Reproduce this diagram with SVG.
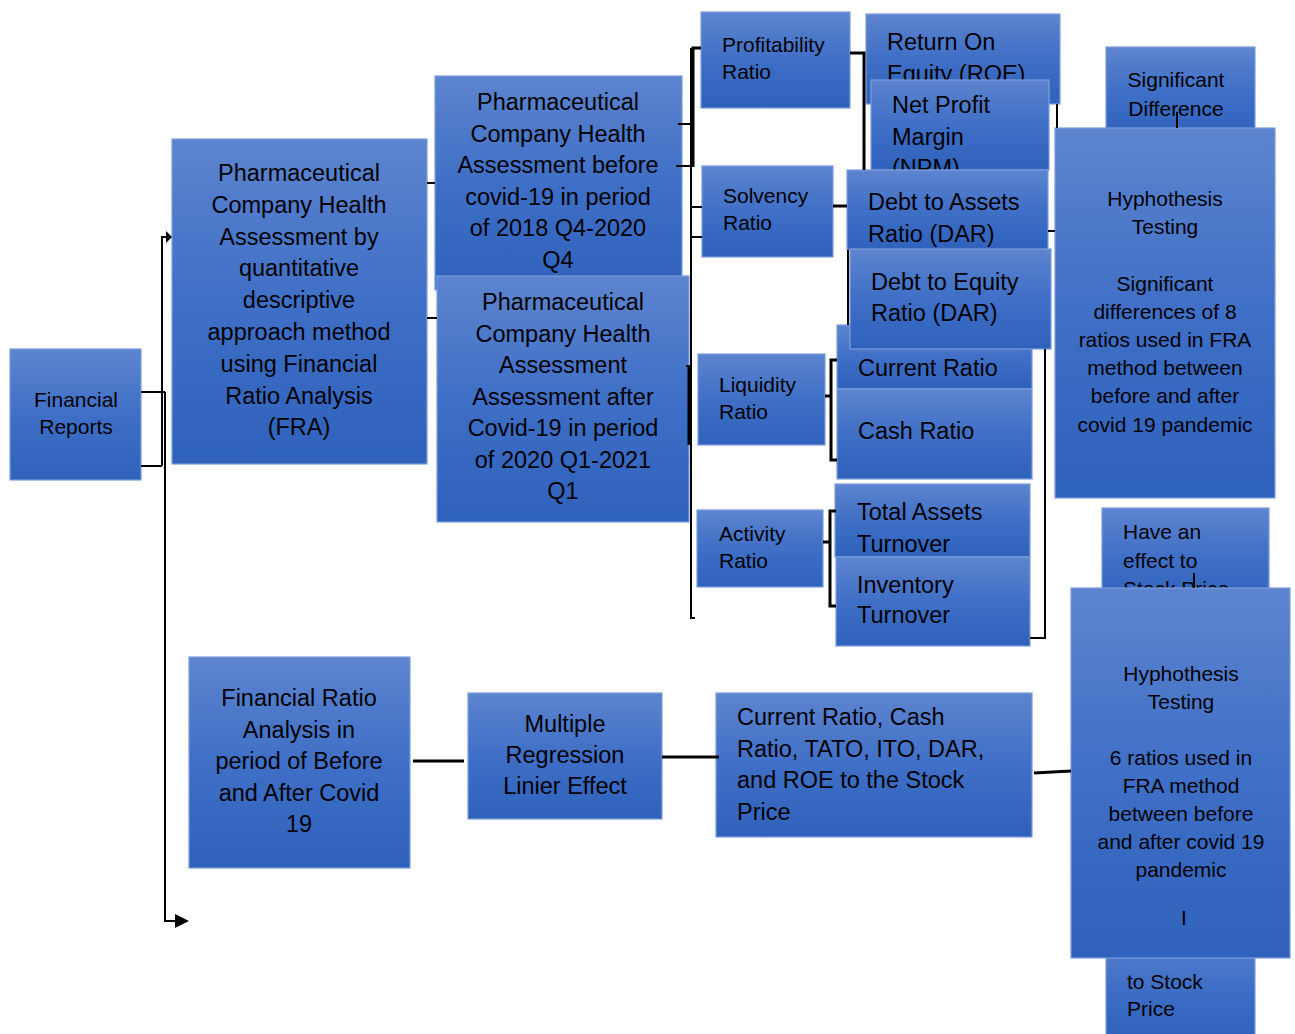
<svg xmlns="http://www.w3.org/2000/svg" width="1295" height="1034" viewBox="0 0 1295 1034">
<defs>
<linearGradient id="g" x1="0" y1="0" x2="0" y2="1">
<stop offset="0" stop-color="#5d84cf"/>
<stop offset="0.5" stop-color="#3f6fc6"/>
<stop offset="1" stop-color="#2f62bc"/>
</linearGradient>
<style>
.box{fill:url(#g);stroke:#7d9ddc;stroke-width:1.2}
.t{font-family:"Liberation Sans",Arial,Helvetica,sans-serif;fill:#000}
.s{font-size:21px}
.b{font-size:23.5px}
.c{text-anchor:middle}
.ln{stroke:#000;fill:none;stroke-width:2}
.lt{stroke:#000;fill:none;stroke-width:3}
</style>
</defs>
<rect width="1295" height="1034" fill="#fff"/>

<g id="financial-reports">
<rect class="box" x="10" y="349" width="131" height="131"/>
<text class="t s c" x="76" y="407">Financial</text>
<text class="t s c" x="76" y="434">Reports</text>
</g>

<g id="fra">
<rect class="box" x="172" y="139" width="255" height="325"/>
<text class="t b c" x="299"><tspan x="299" y="181">Pharmaceutical</tspan><tspan x="299" y="212.8">Company Health</tspan><tspan x="299" y="244.6">Assessment by</tspan><tspan x="299" y="276.4">quantitative</tspan><tspan x="299" y="308.2">descriptive</tspan><tspan x="299" y="340">approach method</tspan><tspan x="299" y="371.8">using Financial</tspan><tspan x="299" y="403.6">Ratio Analysis</tspan><tspan x="299" y="435.4">(FRA)</tspan></text>
</g>

<g id="before">
<rect class="box" x="435" y="76" width="247" height="214"/>
<text class="t b c"><tspan x="558" y="110">Pharmaceutical</tspan><tspan x="558" y="141.6">Company Health</tspan><tspan x="558" y="173.2">Assessment before</tspan><tspan x="558" y="204.8">covid-19 in period</tspan><tspan x="558" y="236.4">of 2018 Q4-2020</tspan><tspan x="558" y="268">Q4</tspan></text>
</g>

<g id="after">
<rect class="box" x="437" y="276" width="252" height="246"/>
<text class="t b c"><tspan x="563" y="310">Pharmaceutical</tspan><tspan x="563" y="341.5">Company Health</tspan><tspan x="563" y="373">Assessment</tspan><tspan x="563" y="404.5">Assessment after</tspan><tspan x="563" y="436">Covid-19 in period</tspan><tspan x="563" y="467.5">of 2020 Q1-2021</tspan><tspan x="563" y="499">Q1</tspan></text>
</g>

<g id="profitability">
<rect class="box" x="701" y="12" width="149" height="96"/>
<text class="t s"><tspan x="722" y="52">Profitability</tspan><tspan x="722" y="79">Ratio</tspan></text>
</g>

<g id="solvency">
<rect class="box" x="702" y="166" width="131" height="91"/>
<text class="t s"><tspan x="723" y="203">Solvency</tspan><tspan x="723" y="230">Ratio</tspan></text>
</g>

<g id="liquidity">
<rect class="box" x="698" y="354" width="127" height="91"/>
<text class="t s"><tspan x="719" y="392">Liquidity</tspan><tspan x="719" y="419">Ratio</tspan></text>
</g>

<g id="activity">
<rect class="box" x="697" y="510" width="126" height="77"/>
<text class="t s"><tspan x="719" y="541">Activity</tspan><tspan x="719" y="568">Ratio</tspan></text>
</g>

<g id="roe">
<rect class="box" x="866" y="14" width="194" height="90"/>
<text class="t b"><tspan x="887" y="50">Return On</tspan><tspan x="887" y="81.5">Equity (ROE)</tspan></text>
</g>

<g id="npm">
<rect class="box" x="871" y="80" width="178" height="90"/>
<text class="t b"><tspan x="892" y="113">Net Profit</tspan><tspan x="892" y="144.5">Margin</tspan><tspan x="892" y="176">(NPM)</tspan></text>
</g>

<g id="dar">
<rect class="box" x="847" y="170" width="201" height="80"/>
<text class="t b"><tspan x="868" y="210">Debt to Assets</tspan><tspan x="868" y="241.5">Ratio (DAR)</tspan></text>
</g>

<g id="current-ratio">
<rect class="box" x="837" y="325" width="195" height="64"/>
<text class="t b" x="858" y="376">Current Ratio</text>
</g>

<g id="der">
<rect class="box" x="850" y="249" width="201" height="100"/>
<text class="t b"><tspan x="871" y="290">Debt to Equity</tspan><tspan x="871" y="320.5">Ratio (DAR)</tspan></text>
</g>

<g id="cash-ratio">
<rect class="box" x="837" y="389" width="195" height="90"/>
<text class="t b" x="858" y="439">Cash Ratio</text>
</g>

<g id="tato">
<rect class="box" x="835" y="484" width="195" height="73"/>
<text class="t b"><tspan x="857" y="520">Total Assets</tspan><tspan x="857" y="552">Turnover</tspan></text>
</g>

<g id="ito">
<rect class="box" x="836" y="557" width="194" height="89"/>
<text class="t b"><tspan x="857" y="593">Inventory</tspan><tspan x="857" y="623">Turnover</tspan></text>
</g>

<g id="significant-difference">
<rect class="box" x="1106" y="47" width="149" height="90"/>
<text class="t s c"><tspan x="1176" y="87">Significant</tspan><tspan x="1176" y="116">Difference</tspan></text>
</g>

<g id="hypothesis-1">
<rect class="box" x="1055" y="128" width="220" height="370"/>
<text class="t s c"><tspan x="1165" y="206">Hyphothesis</tspan><tspan x="1165" y="234.2">Testing</tspan><tspan x="1165" y="290.6">Significant</tspan><tspan x="1165" y="318.8">differences of 8</tspan><tspan x="1165" y="347">ratios used in FRA</tspan><tspan x="1165" y="375.2">method between</tspan><tspan x="1165" y="403.4">before and after</tspan><tspan x="1165" y="431.6">covid 19 pandemic</tspan></text>
</g>

<g id="effect-stock-price">
<rect class="box" x="1102" y="508" width="167" height="100"/>
<text class="t s"><tspan x="1123" y="539">Have an</tspan><tspan x="1123" y="568">effect to</tspan><tspan x="1123" y="596">Stock Price</tspan></text>
</g>

<g id="to-stock-price">
<rect class="box" x="1106" y="930" width="149" height="110"/>
<text class="t s"><tspan x="1127" y="989">to Stock</tspan><tspan x="1127" y="1016">Price</tspan></text>
</g>

<g id="hypothesis-2">
<rect class="box" x="1071" y="588" width="219" height="370"/>
<text class="t s c"><tspan x="1181" y="681">Hyphothesis</tspan><tspan x="1181" y="709">Testing</tspan><tspan x="1181" y="765">6 ratios used in</tspan><tspan x="1181" y="793">FRA method</tspan><tspan x="1181" y="821">between before</tspan><tspan x="1181" y="849">and after covid 19</tspan><tspan x="1181" y="877">pandemic</tspan><tspan x="1184" y="925">I</tspan></text>
</g>

<g id="fra-before-after">
<rect class="box" x="189" y="657" width="221" height="211"/>
<text class="t b c"><tspan x="299" y="706">Financial Ratio</tspan><tspan x="299" y="737.5">Analysis in</tspan><tspan x="299" y="769">period of Before</tspan><tspan x="299" y="800.5">and After Covid</tspan><tspan x="299" y="832">19</tspan></text>
</g>

<g id="regression">
<rect class="box" x="468" y="693" width="194" height="126"/>
<text class="t b c"><tspan x="565" y="732">Multiple</tspan><tspan x="565" y="763">Regression</tspan><tspan x="565" y="794">Linier Effect</tspan></text>
</g>

<g id="ratios-stock-price">
<rect class="box" x="716" y="693" width="316" height="144"/>
<text class="t b"><tspan x="737" y="725">Current Ratio, Cash</tspan><tspan x="737" y="756.7">Ratio, TATO, ITO, DAR,</tspan><tspan x="737" y="788.3">and ROE to the Stock</tspan><tspan x="737" y="820">Price</tspan></text>
</g>

<g id="connectors">
<path class="ln" d="M141,392 H165 M141,466 H162 M162,466 V237 H168 M165,392 V921 H176"/>
<polygon points="166,231 172,237 166,243" fill="#000"/>
<polygon points="175,914 189,921 175,928" fill="#000"/>
<path class="ln" d="M427,183 H435 M427,318 H437"/>
<path class="ln" d="M678,124 H692 M676,166 H692"/>
<path class="lt" d="M701,48 H693 V167"/>
<path class="ln" d="M691,48 V618 H695 M691,207 H702 M691,237 H702 M686,366 H691"/>
<path class="lt" d="M689,366 V445"/>
<path class="lt" d="M850,53 H864 V170"/>
<path class="lt" d="M833,206 H847"/>
<path class="ln" d="M848,250 V325"/>
<path class="ln" d="M1057,104 V128 M1048,231 H1055"/>
<path class="ln" d="M1045,349 V638 H1030"/>
<path class="lt" d="M825,396 H831 M837,360 H831 V460 H837"/>
<path class="lt" d="M823,542 H830 M836,511 H830 V606 H836"/>
<path class="ln" d="M1177,112 V128 M1194,573 V588"/>
<path class="lt" d="M413,761 H464 M662,757 H719 M1034,773 L1071,771"/>
</g>
</svg>
